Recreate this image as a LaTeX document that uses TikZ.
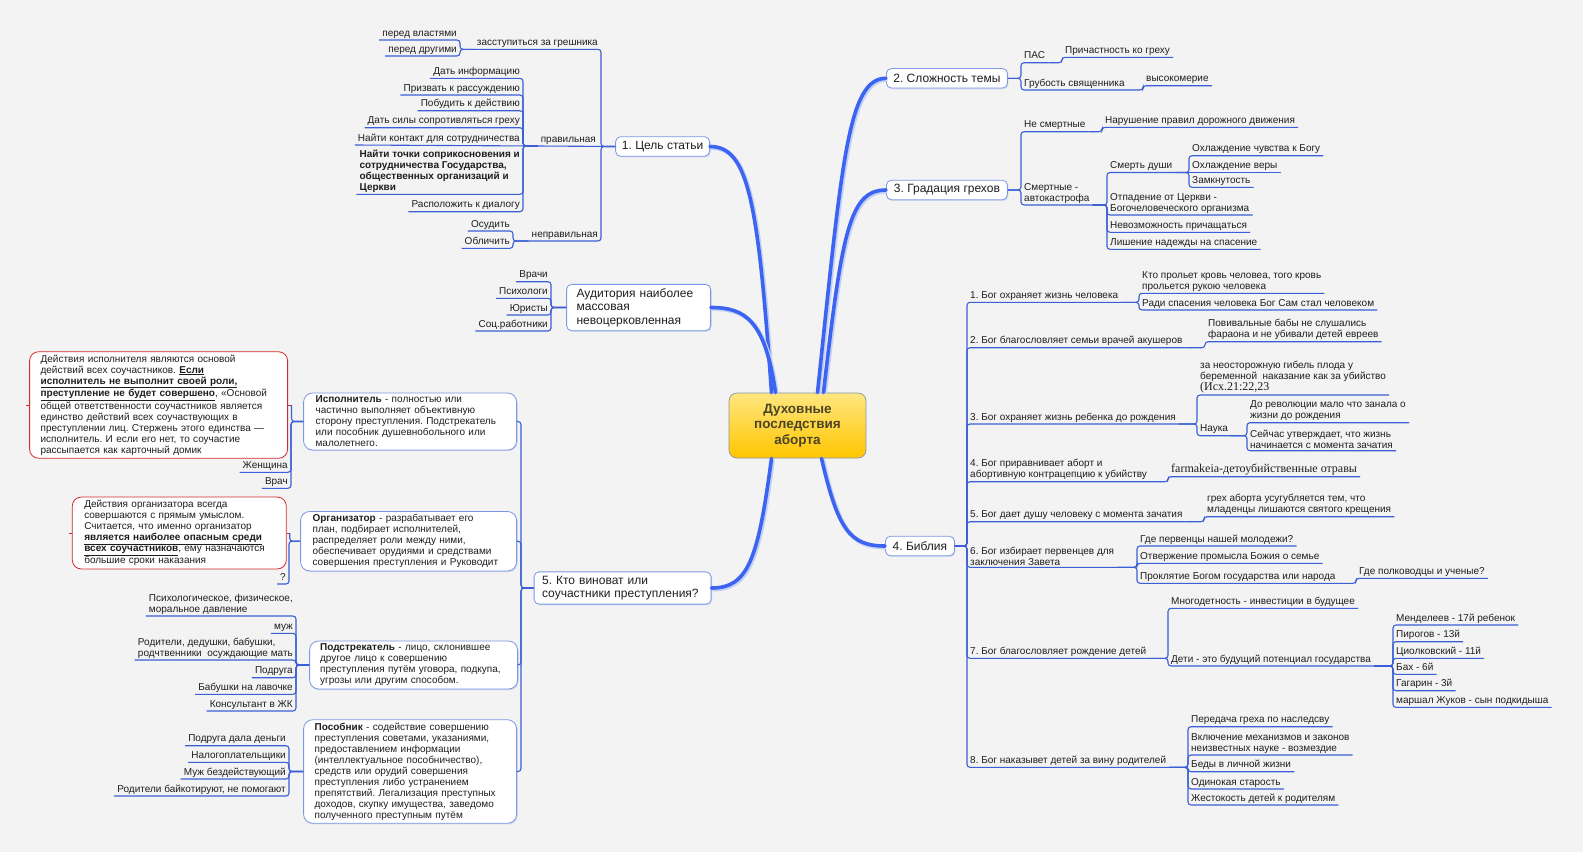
\documentclass[tikz,border=0pt]{standalone}
\usepackage{fontspec}
\setmainfont{Liberation Sans}
\newfontfamily\serifcyr{Liberation Serif}
\usepackage{xcolor}
\definecolor{bgpaper}{HTML}{F3F3F3}
\definecolor{branchblue}{HTML}{3C64F0}
\definecolor{branchshade}{HTML}{C3D0F6}
\definecolor{linkblue}{HTML}{3A5FD6}
\definecolor{boxline}{HTML}{7C98E4}
\definecolor{notered}{HTML}{D42A2A}
\definecolor{centretop}{HTML}{FFE680}
\definecolor{centrebot}{HTML}{FFC600}
\definecolor{centreline}{HTML}{8A93A8}
\definecolor{centretext}{HTML}{4B4426}
\definecolor{inktext}{HTML}{1E1E1E}
\usepackage{tikz}
\usetikzlibrary{shadows}
\frenchspacing
\newcommand{\leaffont}{\fontsize{10}{11}\selectfont}
\newcommand{\topicfont}{\fontsize{12}{13.5}\selectfont}
\tikzstyle{centre} = [
  rectangle, rounded corners=8pt,
  minimum width=137pt, minimum height=65pt,
  align=center, draw=centreline, line width=0.7pt,
  top color=centretop, bottom color=centrebot,
  text=centretext, font=\fontsize{13.5}{15.5}\selectfont\bfseries
]
\tikzstyle{topic} = [
  rectangle, rounded corners=5pt,
  minimum height=19.5pt, inner xsep=6pt, inner ysep=3pt,
  draw=boxline, line width=0.8pt, fill=white, font=\topicfont,
  drop shadow={shadow xshift=1pt, shadow yshift=-1.2pt, fill=boxline, opacity=0.3}
]
\tikzstyle{topicm} = [
  topic, align=left, inner ysep=4pt
]
\tikzstyle{role} = [
  rectangle, rounded corners=9pt, align=left, inner ysep=3pt,
  draw=boxline, line width=0.8pt, fill=white, font=\leaffont,
  drop shadow={shadow xshift=1pt, shadow yshift=-1.2pt, fill=boxline, opacity=0.3}
]
\tikzstyle{note} = [
  rectangle, rounded corners=9pt, align=left, inner ysep=3pt,
  draw=notered, line width=0.8pt, fill=white, font=\leaffont
]
\tikzstyle{leaf} = [
  inner xsep=3pt, inner ysep=1pt, text height=7.5pt, text depth=2.6pt,
  font=\leaffont
]
\tikzstyle{leafm} = [
  inner xsep=3pt, inner ysep=1.5pt, align=left, font=\leaffont
]
\tikzstyle{link} = [
  line width=1.1pt, color=linkblue, rounded corners=3pt
]
\tikzstyle{notetick} = [
  line width=1pt, color=notered
]
\tikzstyle{branch} = [
  line width=3.6pt, color=branchblue, line cap=round,
  preaction={draw=branchshade, line width=4.5pt,
             transform canvas={shift={(1.2pt,-1.2pt)}}}
]

\begin{document}
\begin{tikzpicture}[x=1pt, y=-1pt, every node/.style={text=inktext}]

  \useasboundingbox (0,0) rectangle (1583,852);
  \fill[bgpaper] (0,0) rectangle (1583,852);

  % ── Centre ────────────────────────────────────────────
  \node[centre] (centre) at (797.5,425.5) {Духовные\\последствия\\аборта};

  % ── Main topics ───────────────────────────────────────
  \node[topic, anchor=east, minimum width=94pt] (goal) at (710,146.5) {1. Цель статьи};
  \node[topicm, anchor=east, text width=124pt, inner xsep=10pt]
    (audience) at (711,307.5) {Аудитория наиболее\\массовая\\невоцерковленная};
  \node[topicm, anchor=east, text width=161pt, inner xsep=8pt]
    (guilty) at (711.5,588) {5. Кто виноват или\\соучастники преступления?};
  \node[topic, anchor=west, minimum width=121pt] (complex) at (886,78.3) {2. Сложность темы};
  \node[topic, anchor=west, minimum width=121pt] (grades) at (886,190) {3. Градация грехов};
  \node[topic, anchor=west, minimum width=69pt] (bible) at (885,546) {4. Библия};

  \draw[branch] ([xshift=-26pt]centre.north) .. controls (758,200) and (748,146.5) .. (goal.east);
  \draw[branch] ([xshift=-22pt]centre.north) .. controls (765,320) and (745,307.5) .. (audience.east);
  \draw[branch] ([xshift=-26pt]centre.south) .. controls (758,560) and (748,588) .. (guilty.east);
  \draw[branch] ([xshift=20pt]centre.north) .. controls (842,160) and (848,78.3) .. (complex.west);
  \draw[branch] ([xshift=26pt]centre.north) .. controls (842,230) and (850,190) .. (grades.west);
  \draw[branch] ([xshift=24pt]centre.south) .. controls (838,530) and (850,546) .. (bible.west);

  % ── 1. Цель статьи ────────────────────────────────────
  \node[leaf, anchor=south east] (intercede) at (601,49.3) {засступиться за грешника};
  \node[leaf, anchor=south east] (beforepower) at (460,40) {перед властями};
  \node[leaf, anchor=south east] (beforeothers) at (460,56) {перед другими};
  \node[leaf, anchor=south east] (correct) at (599,146) {правильная};
  \node[leaf, anchor=south east] (inform) at (523,78.3) {Дать информацию};
  \node[leaf, anchor=south east] (reason) at (523,95) {Призвать к рассуждению};
  \node[leaf, anchor=south east] (action) at (523,110.7) {Побудить к действию};
  \node[leaf, anchor=south east] (resist) at (523,127.7) {Дать силы сопротивляться греху};
  \node[leaf, anchor=south east] (contact) at (523,145) {Найти контакт для сотрудничества};
  \node[leafm, anchor=south east, font=\leaffont\bfseries] (points) at (523,194.3)
    {Найти точки соприкосновения и\\сотрудничества Государства,\\общественных организаций и\\Церкви};
  \node[leaf, anchor=south east] (dialogue) at (523,211.7) {Расположить к диалогу};
  \node[leaf, anchor=south east] (incorrect) at (601,241) {неправильная};
  \node[leaf, anchor=south east] (condemn) at (513,231) {Осудить};
  \node[leaf, anchor=south east] (expose) at (513,248.3) {Обличить};

  \draw[link] (intercede.south west) -- (intercede.south east) |- (goal.west);
  \draw[link] (beforepower.south west) -- (beforepower.south east) |- (intercede.south west);
  \draw[link] (beforeothers.south west) -- (beforeothers.south east) |- (intercede.south west);
  \draw[link] (correct.south west) -- (goal.west);
  \draw[link] (inform.south west) -- (inform.south east) |- (correct.south west);
  \draw[link] (reason.south west) -- (reason.south east) |- (correct.south west);
  \draw[link] (action.south west) -- (action.south east) |- (correct.south west);
  \draw[link] (resist.south west) -- (resist.south east) |- (correct.south west);
  \draw[link] (contact.south west) -- (correct.south west);
  \draw[link] (points.south west) -- (points.south east) |- (correct.south west);
  \draw[link] (dialogue.south west) -- (dialogue.south east) |- (correct.south west);
  \draw[link] (incorrect.south west) -- (incorrect.south east) |- (goal.west);
  \draw[link] (condemn.south west) -- (condemn.south east) |- (incorrect.south west);
  \draw[link] (expose.south west) -- (expose.south east) |- (incorrect.south west);

  % ── Аудитория ─────────────────────────────────────────
  \node[leaf, anchor=south east] (doctors) at (551,281.7) {Врачи};
  \node[leaf, anchor=south east] (psychologists) at (551,298.3) {Психологи};
  \node[leaf, anchor=south east] (lawyers) at (551,315) {Юристы};
  \node[leaf, anchor=south east] (socialworkers) at (551,331) {Соц.работники};

  \draw[link] (doctors.south west) -- (doctors.south east) |- (audience.west);
  \draw[link] (psychologists.south west) -- (psychologists.south east) |- (audience.west);
  \draw[link] (lawyers.south west) -- (lawyers.south east) |- (audience.west);
  \draw[link] (socialworkers.south west) -- (socialworkers.south east) |- (audience.west);

  % ── 5. Кто виноват ────────────────────────────────────
  \node[role, anchor=east, text width=189pt, inner xsep=12pt] (performer) at (517,421.5)
    {\textbf{Исполнитель} - полностью или\\частично выполняет объективную\\сторону преступления. Подстрекатель\\или пособник душевнобольного или\\малолетнего.};
  \node[role, anchor=east, text width=192pt, inner xsep=12pt] (organizer) at (517,541.2)
    {\textbf{Организатор} - разрабатывает его\\план, подбирает исполнителей,\\распределяет роли между ними,\\обеспечивает орудиями и средствами\\совершения преступления и Руководит};
  \node[role, anchor=east, text width=187pt, inner xsep=10.5pt] (instigator) at (518,665)
    {\textbf{Подстрекатель} - лицо, склонившее\\другое лицо к совершению\\преступления путём уговора, подкупа,\\угрозы или другим способом.};
  \node[role, anchor=east, text width=191pt, inner xsep=11pt] (accomplice) at (517,771.5)
    {\textbf{Пособник} - содействие совершению\\преступления советами, указаниями,\\предоставлением информации\\(интеллектуальное пособничество),\\средств или орудий совершения\\преступления либо устранением\\препятствий. Легализация преступных\\доходов, скупку имущества, заведомо\\полученного преступным путём};

  \draw[link] (performer.east) -- ++(4,0) |- (guilty.west);
  \draw[link] (organizer.east) -- ++(4,0) |- (guilty.west);
  \draw[link] (instigator.east) -- ++(3,0) |- (guilty.west);
  \draw[link] (accomplice.east) -- ++(4,0) |- (guilty.west);

  % Исполнитель
  \node[note, anchor=east, text width=236pt, inner xsep=11pt] (performernote) at (288,405)
    {Действия исполнителя являются основой\\действий всех соучастников. \underline{\textbf{Если}}\\\underline{\textbf{исполнитель не выполнит своей роли,}}\\\underline{\textbf{преступление не будет совершено}}, «Основой\\общей ответственности соучастников является\\единство действий всех соучаствующих в\\преступлении лиц. Стержень этого единства —\\исполнитель. И если его нет, то соучастие\\рассыпается как карточный домик};
  \node[leaf, anchor=south east] (woman) at (291,472.3) {Женщина};
  \node[leaf, anchor=south east] (doctor) at (291,488.3) {Врач};

  \draw[notetick] (performernote.west) -- ++(-3,0);
  \draw[notetick] (performernote.east) -- ++(3.5,0);
  \draw[link] ([xshift=3.5pt]performernote.east) |- (performer.west);
  \draw[link] (woman.south west) -- (woman.south east) |- (performer.west);
  \draw[link] (doctor.south west) -- (doctor.south east) |- (performer.west);

  % Организатор
  \node[note, anchor=east, text width=190pt, inner xsep=12pt] (organizernote) at (286.7,533)
    {Действия организатора всегда\\совершаются с прямым умыслом.\\Считается, что именно организатор\\\underline{\textbf{является наиболее опасным среди}}\\\underline{\textbf{всех соучастников}}, ему назначаются\\большие сроки наказания};
  \node[leaf, anchor=south east] (unknown) at (289,584) {?};

  \draw[notetick] (organizernote.west) -- ++(-3,0);
  \draw[notetick] (organizernote.east) -- ++(3,0);
  \draw[link] ([xshift=3pt]organizernote.east) |- (organizer.west);
  \draw[link] (unknown.south west) -- (unknown.south east) |- (organizer.west);

  % Подстрекатель
  \node[leafm, anchor=south east] (pressure) at (296,616) {Психологическое, физическое,\\моральное давление};
  \node[leaf, anchor=south east] (husband) at (296,633.3) {муж};
  \node[leafm, anchor=south east] (relatives) at (296,660) {Родители, дедушки, бабушки,\\родчтвенники\ \ осуждающие мать};
  \node[leaf, anchor=south east] (girlfriend) at (296,677.7) {Подруга};
  \node[leaf, anchor=south east] (grannies) at (296,694.3) {Бабушки на лавочке};
  \node[leaf, anchor=south east] (consultant) at (296,711) {Консультант в ЖК};

  \draw[link] (pressure.south west) -- (pressure.south east) |- (instigator.west);
  \draw[link] (husband.south west) -- (husband.south east) |- (instigator.west);
  \draw[link] (relatives.south west) -- (relatives.south east) |- (instigator.west);
  \draw[link] (girlfriend.south west) -- (girlfriend.south east) |- (instigator.west);
  \draw[link] (grannies.south west) -- (grannies.south east) |- (instigator.west);
  \draw[link] (consultant.south west) -- (consultant.south east) |- (instigator.west);

  % Пособник
  \node[leaf, anchor=south east] (money) at (289,745.7) {Подруга дала деньги};
  \node[leaf, anchor=south east] (taxpayers) at (289,762.3) {Налогоплательщики};
  \node[leaf, anchor=south east] (idlehusband) at (289,779) {Муж бездействующий};
  \node[leaf, anchor=south east] (boycott) at (289,796) {Родители байкотируют, не помогают};

  \draw[link] (money.south west) -- (money.south east) |- (accomplice.west);
  \draw[link] (taxpayers.south west) -- (taxpayers.south east) |- (accomplice.west);
  \draw[link] (idlehusband.south west) -- (idlehusband.south east) |- (accomplice.west);
  \draw[link] (boycott.south west) -- (boycott.south east) |- (accomplice.west);

  % ── 2. Сложность темы ─────────────────────────────────
  \node[leaf, anchor=south west] (pas) at (1021,62.7) {ПАС};
  \node[leaf, anchor=south west] (complicity) at (1062,57.3) {Причастность ко греху};
  \node[leaf, anchor=south west] (rudeness) at (1021,90) {Грубость священника};
  \node[leaf, anchor=south west] (arrogance) at (1143,85.7) {высокомерие};

  \draw[link] (complex.east) -| (pas.south west) -- (pas.south east);
  \draw[link] (pas.south east) -| (complicity.south west) -- (complicity.south east);
  \draw[link] (complex.east) -| (rudeness.south west) -- (rudeness.south east);
  \draw[link] (rudeness.south east) -| (arrogance.south west) -- (arrogance.south east);

  % ── 3. Градация грехов ────────────────────────────────
  \node[leaf, anchor=south west] (venial) at (1021,131.7) {Не смертные};
  \node[leaf, anchor=south west] (traffic) at (1102,127.3) {Нарушение правил дорожного движения};
  \node[leafm, anchor=south west] (mortal) at (1021,205) {Смертные -\\автокастрофа};
  \node[leaf, anchor=south west] (souldeath) at (1107,172.5) {Смерть души};
  \node[leaf, anchor=south west] (coolgod) at (1189,155.7) {Охлаждение чувства к Богу};
  \node[leaf, anchor=south west] (coolfaith) at (1189,172.5) {Охлаждение веры};
  \node[leaf, anchor=south west] (closed) at (1189,187.3) {Замкнутость};
  \node[leafm, anchor=south west] (fallaway) at (1107,215) {Отпадение от Церкви -\\Богочеловеческого организма};
  \node[leaf, anchor=south west] (nocommunion) at (1107,232.3) {Невозможность причащаться};
  \node[leaf, anchor=south west] (nohope) at (1107,249.3) {Лишение надежды на спасение};

  \draw[link] (grades.east) -| (venial.south west) -- (venial.south east);
  \draw[link] (venial.south east) -| (traffic.south west) -- (traffic.south east);
  \draw[link] (grades.east) -| (mortal.south west) -- (mortal.south east);
  \draw[link] (mortal.south east) -| (souldeath.south west) -- (souldeath.south east);
  \draw[link] (souldeath.south east) -| (coolgod.south west) -- (coolgod.south east);
  \draw[link] (souldeath.south east) -- (coolfaith.south west) -- (coolfaith.south east);
  \draw[link] (souldeath.south east) -| (closed.south west) -- (closed.south east);
  \draw[link] (mortal.south east) -| (fallaway.south west) -- (fallaway.south east);
  \draw[link] (mortal.south east) -| (nocommunion.south west) -- (nocommunion.south east);
  \draw[link] (mortal.south east) -| (nohope.south west) -- (nohope.south east);

  % ── 4. Библия ─────────────────────────────────────────
  \node[leaf, anchor=south west] (life) at (967,302.3) {1. Бог охраняет жизнь человека};
  \node[leafm, anchor=south west] (blood) at (1139,293.3) {Кто прольет кровь человеа, того кровь\\прольется рукою человека};
  \node[leaf, anchor=south west] (incarnation) at (1139,310) {Ради спасения человека Бог Сам стал человеком};

  \node[leaf, anchor=south west] (midwives) at (967,347.7) {2. Бог благословляет семьи врачей акушеров};
  \node[leafm, anchor=south west] (pharaoh) at (1205,341.7) {Повивальные бабы не слушались\\фараона и не убивали детей евреев};

  \node[leaf, anchor=south west] (unborn) at (967,424) {3. Бог охраняет жизнь ребенка до рождения};
  \node[leafm, anchor=south west] (exodus) at (1197,395)
    {за неосторожную гибель плода у\\беременной\ \ наказание как за убийство\\{\serifcyr\fontsize{12}{12.5}\selectfont (Исх.21:22,23}};
  \node[leaf, anchor=south west] (science) at (1197,435.7) {Наука};
  \node[leafm, anchor=south west] (before) at (1247,422.7) {До революции мало что занала о\\жизни до рождения};
  \node[leafm, anchor=south west] (now) at (1247,450.7) {Сейчас утверждает, что жизнь\\начинается с момента зачатия};

  \node[leafm, anchor=south west] (equates) at (967,481.7) {4. Бог приравнивает аборт и\\абортивную контрацепцию к убийству};
  \node[leaf, anchor=south west, text height=8.5pt, font=\serifcyr\fontsize{12}{13}\selectfont]
    (poisons) at (1168,476.7) {farmakeia-детоубийственные отравы};

  \node[leaf, anchor=south west] (soul) at (967,521.7) {5. Бог дает душу человеку с момента зачатия};
  \node[leafm, anchor=south west] (baptism) at (1204,516.7) {грех аборта усугубляется тем, что\\младенцы лишаются святого крещения};

  \node[leafm, anchor=south west] (firstborn) at (967,567.3) {6. Бог избирает первенцев для\\заключения Завета};
  \node[leaf, anchor=south west] (youth) at (1137,546) {Где первенцы нашей молодежи?};
  \node[leaf, anchor=south west] (rejection) at (1137,563.3) {Отвержение промысла Божия о семье};
  \node[leaf, anchor=south west] (curse) at (1137,583.3) {Проклятие Богом государства или народа};
  \node[leaf, anchor=south west] (generals) at (1356,578.3) {Где полководцы и ученые?};

  \node[leaf, anchor=south west] (birth) at (967,658.3) {7. Бог благословляет рождение детей};
  \node[leaf, anchor=south west] (bigfamily) at (1168,608.3) {Многодетность - инвестиции в будущее};
  \node[leaf, anchor=south west] (potential) at (1168,666) {Дети - это будущий потенциал государства};
  \node[leaf, anchor=south west] (mendeleev) at (1393,625) {Менделеев - 17й ребенок};
  \node[leaf, anchor=south west] (pirogov) at (1393,641.7) {Пирогов - 13й};
  \node[leaf, anchor=south west] (tsiolkovsky) at (1393,658.3) {Циолковский - 11й};
  \node[leaf, anchor=south west] (bach) at (1393,674.3) {Бах - 6й};
  \node[leaf, anchor=south west] (gagarin) at (1393,690.7) {Гагарин - 3й};
  \node[leaf, anchor=south west] (zhukov) at (1393,707.3) {маршал Жуков - сын подкидыша};

  \node[leaf, anchor=south west] (punish) at (967,767.3) {8. Бог наказывет детей за вину родителей};
  \node[leaf, anchor=south west] (heredity) at (1188,726.7) {Передача греха по наследсву};
  \node[leafm, anchor=south west] (retribution) at (1188,755) {Включение механизмов и законов\\неизвестных науке - возмездие};
  \node[leaf, anchor=south west] (troubles) at (1188,771.7) {Беды в личной жизни};
  \node[leaf, anchor=south west] (oldage) at (1188,789) {Одинокая старость};
  \node[leaf, anchor=south west] (cruelty) at (1188,805) {Жестокость детей к родителям};

  \draw[link] (bible.east) -| (life.south west) -- (life.south east);
  \draw[link] (life.south east) -| (blood.south west) -- (blood.south east);
  \draw[link] (life.south east) -| (incarnation.south west) -- (incarnation.south east);
  \draw[link] (bible.east) -| (midwives.south west) -- (midwives.south east);
  \draw[link] (midwives.south east) -| (pharaoh.south west) -- (pharaoh.south east);
  \draw[link] (bible.east) -| (unborn.south west) -- (unborn.south east);
  \draw[link] (unborn.south east) -| (exodus.south west) -- (exodus.south east);
  \draw[link] (unborn.south east) -| (science.south west) -- (science.south east);
  \draw[link] (science.south east) -| (before.south west) -- (before.south east);
  \draw[link] (science.south east) -| (now.south west) -- (now.south east);
  \draw[link] (bible.east) -| (equates.south west) -- (equates.south east);
  \draw[link] (equates.south east) -| (poisons.south west) -- (poisons.south east);
  \draw[link] (bible.east) -| (soul.south west) -- (soul.south east);
  \draw[link] (soul.south east) -| (baptism.south west) -- (baptism.south east);
  \draw[link] (bible.east) -| (firstborn.south west) -- (firstborn.south east);
  \draw[link] (firstborn.south east) -| (youth.south west) -- (youth.south east);
  \draw[link] (firstborn.south east) -| (rejection.south west) -- (rejection.south east);
  \draw[link] (firstborn.south east) -| (curse.south west) -- (curse.south east);
  \draw[link] (curse.south east) -| (generals.south west) -- (generals.south east);
  \draw[link] (bible.east) -| (birth.south west) -- (birth.south east);
  \draw[link] (birth.south east) -| (bigfamily.south west) -- (bigfamily.south east);
  \draw[link] (birth.south east) -| (potential.south west) -- (potential.south east);
  \draw[link] (potential.south east) -| (mendeleev.south west) -- (mendeleev.south east);
  \draw[link] (potential.south east) -| (pirogov.south west) -- (pirogov.south east);
  \draw[link] (potential.south east) -| (tsiolkovsky.south west) -- (tsiolkovsky.south east);
  \draw[link] (potential.south east) -| (bach.south west) -- (bach.south east);
  \draw[link] (potential.south east) -| (gagarin.south west) -- (gagarin.south east);
  \draw[link] (potential.south east) -| (zhukov.south west) -- (zhukov.south east);
  \draw[link] (bible.east) -| (punish.south west) -- (punish.south east);
  \draw[link] (punish.south east) -| (heredity.south west) -- (heredity.south east);
  \draw[link] (punish.south east) -| (retribution.south west) -- (retribution.south east);
  \draw[link] (punish.south east) -| (troubles.south west) -- (troubles.south east);
  \draw[link] (punish.south east) -| (oldage.south west) -- (oldage.south east);
  \draw[link] (punish.south east) -| (cruelty.south west) -- (cruelty.south east);

\end{tikzpicture}
\end{document}
